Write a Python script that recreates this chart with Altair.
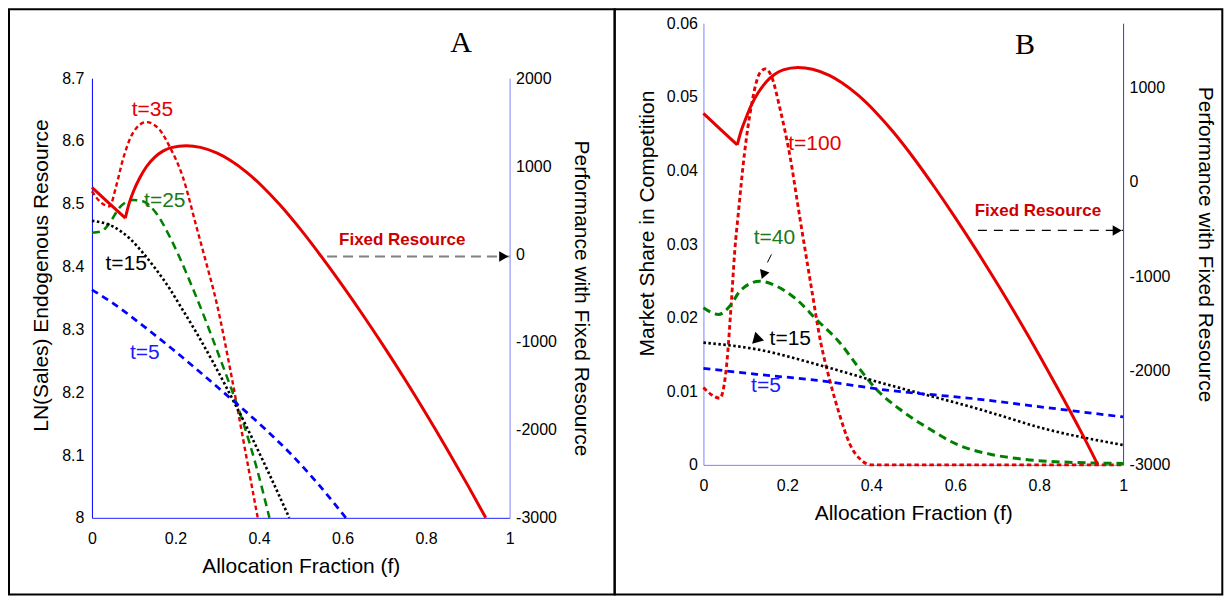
import altair as alt
import pandas as pd

# ---------------- shared ----------------
X_TICKS = [0, 0.2, 0.4, 0.6, 0.8, 1]

# ---------------- Panel A data ----------------
A_LEFT_TICKS = [8, 8.1, 8.2, 8.3, 8.4, 8.5, 8.6, 8.7]
A_RIGHT_TICKS = [-3000, -2000, -1000, 0, 1000, 2000]

A_T35_F = [0, 0.02, 0.042, 0.058, 0.074, 0.098, 0.13, 0.162, 0.186, 0.2175, 0.25, 0.27, 0.30, 0.33, 0.345, 0.369, 0.397]
A_T35_V = [8.520, 8.503, 8.496, 8.528, 8.570, 8.6125, 8.630, 8.618, 8.591, 8.543, 8.464, 8.415, 8.338, 8.24, 8.187, 8.10, 8.0]

A_T25_F = [0, 0.022, 0.042, 0.066, 0.098, 0.122, 0.154, 0.186, 0.2075, 0.241, 0.269, 0.289, 0.329, 0.345, 0.361, 0.393, 0.425]
A_T25_V = [8.454, 8.456, 8.469, 8.494, 8.506, 8.504, 8.485, 8.448, 8.418, 8.366, 8.32, 8.285, 8.214, 8.185, 8.154, 8.083, 8.0]

A_T15_F = [0, 0.05, 0.09, 0.122, 0.154, 0.186, 0.21, 0.25, 0.289, 0.321, 0.349, 0.385, 0.425, 0.4725]
A_T15_V = [8.473, 8.464, 8.445, 8.422, 8.395, 8.365, 8.339, 8.295, 8.249, 8.209, 8.173, 8.125, 8.069, 8.0]

A_T5_F = [0, 0.05, 0.122, 0.194, 0.257, 0.313, 0.353, 0.417, 0.48, 0.544, 0.608]
A_T5_V = [8.363, 8.342, 8.306, 8.268, 8.233, 8.201, 8.178, 8.140, 8.099, 8.052, 8.0]

A_FIX1_F = [0, 0.04, 0.0798]
A_FIX1_V = [757, 583, 409]
A_FIX2_F = [0.0798, 0.09, 0.10, 0.115, 0.13, 0.15, 0.17, 0.19, 0.226, 0.26, 0.30, 0.33, 0.37, 0.41,
            0.45, 0.50, 0.55, 0.60, 0.65, 0.70, 0.75, 0.80, 0.85, 0.90, 0.943]
A_FIX2_V = [409, 590, 720, 870, 990, 1100, 1170, 1210, 1231, 1213, 1147, 1069, 932, 760,
            560, 277, -33, -360, -702, -1059, -1430, -1816, -2216, -2631, -3000]

A_LABEL_TEXT = ["t=35", "t=25", "t=15", "t=5"]
A_LABEL_F = [0.145, 0.1745, 0.082, 0.1267]
A_LABEL_V = [8.6496, 8.5037, 8.4046, 8.2625]
A_LABEL_COLOR = ["#e60000", "#1a7a1a", "#000000", "#1a1aff"]

A_FIXED_TEXT_F, A_FIXED_TEXT_V = [0.743], [8.4427]
A_PANEL_F, A_PANEL_V = [0.884], [8.756]
A_ARROW_F0, A_ARROW_F1, A_ARROW_V = [0.563], [0.986], [-27]

# ---------------- Panel B data ----------------
B_LEFT_TICKS = [0, 0.01, 0.02, 0.03, 0.04, 0.05, 0.06]
B_RIGHT_TICKS = [-3000, -2000, -1000, 0, 1000]

B_T100_F = [0, 0.02, 0.039, 0.055, 0.067, 0.075, 0.0825, 0.098, 0.114, 0.134, 0.148, 0.162, 0.182,
            0.206, 0.230, 0.256, 0.280, 0.301, 0.325, 0.349, 0.375, 0.40, 0.6, 0.8, 1.0]
B_T100_V = [0.0105, 0.0095, 0.00905, 0.0134, 0.0225, 0.0293, 0.0338, 0.0424, 0.0487, 0.0532, 0.0538, 0.0528, 0.0485,
            0.0420, 0.0335, 0.0245, 0.0165, 0.0115, 0.0067, 0.0028, 0.0007, 0.0, 0.0, 0.0, 0.0]

B_T40_F = [0, 0.036, 0.063, 0.087, 0.134, 0.174, 0.222, 0.269, 0.325, 0.373, 0.412, 0.468, 0.54,
           0.603, 0.683, 0.762, 0.881, 1.0]
B_T40_V = [0.02135, 0.02044, 0.02157, 0.0236, 0.02496, 0.02428, 0.02247, 0.01976, 0.0166, 0.01298, 0.01027,
           0.00755, 0.00484, 0.00281, 0.00145, 0.00077, 0.00033, 0.0002]

B_T15_F = [0, 0.127, 0.286, 0.42, 0.658, 0.8175, 1.0]
B_T15_V = [0.0166, 0.0157, 0.0134, 0.0112, 0.00755, 0.00484, 0.0027]

B_T5_F = [0, 0.127, 0.286, 0.42, 0.658, 0.8175, 1.0]
B_T5_V = [0.01312, 0.0123, 0.01139, 0.01027, 0.00891, 0.00778, 0.00651]

B_FIX1_F = [0, 0.04, 0.0806]
B_FIX1_V = [725, 557, 390]
B_FIX2_F = [0.0806, 0.09, 0.10, 0.115, 0.13, 0.15, 0.17, 0.19, 0.225, 0.26, 0.30, 0.33, 0.37, 0.41,
            0.45, 0.50, 0.55, 0.60, 0.65, 0.70, 0.75, 0.80, 0.85, 0.90, 0.94]
B_FIX2_V = [390, 540, 660, 820, 940, 1060, 1140, 1185, 1211, 1193, 1127, 1049, 912, 740,
            540, 257, -53, -380, -722, -1079, -1450, -1836, -2236, -2651, -3000]

B_LABEL_TEXT = ["t=100", "t=40", "t=15", "t=5"]
B_LABEL_F = [0.2653, 0.169, 0.207, 0.149]
B_LABEL_V = [0.04363, 0.03084, 0.01705, 0.01077]
B_LABEL_COLOR = ["#e60000", "#1a7a1a", "#000000", "#1a1aff"]

B_FIXED_TEXT_F, B_FIXED_TEXT_V = [0.797], [0.03445]
B_PANEL_F, B_PANEL_V = [0.766], [0.05706]
B_ARROW_F0, B_ARROW_F1, B_ARROW_V = [0.654], [0.986], [-516]
B_T40_PTR_F0, B_T40_PTR_V0, B_T40_PTR_F1, B_T40_PTR_V1 = [0.162], [0.02858], [0.1525], [0.0275]
B_T40_HEAD_F, B_T40_HEAD_V = [0.1437], [0.0260]
B_T15_HEAD_F, B_T15_HEAD_V = [0.128], [0.01715]

SANS = "Liberation Sans"
SERIF = "Liberation Serif"


def long_df(pairs):
    rows = []
    for name, fs, vs in pairs:
        for f, v in zip(fs, vs):
            rows.append({"f": f, "v": v, "s": name})
    return pd.DataFrame(rows)


def make_panel(p):
    xs = alt.Scale(domain=[0, 1], nice=False, zero=False)
    ls = alt.Scale(domain=p["left_domain"], nice=False, zero=False, range=p["y_range"])
    rs = alt.Scale(domain=p["right_domain"], nice=False, zero=False, range=p["y_range"])

    ax_x = alt.Axis(title="Allocation Fraction (f)", values=X_TICKS, format=".1~f",
                    domainColor=p["bottom_color"], domainWidth=1, ticks=False, tickSize=0,
                    grid=False, labelFlush=False, labelPadding=13, titlePadding=9)
    ax_l = alt.Axis(title=p["left_title"], values=p["left_ticks"], format=p["left_fmt"],
                    domainColor=p["left_color"], domainWidth=1, ticks=False, tickSize=0,
                    grid=False, labelPadding=p["left_pad"], labelOverlap=False,
                    titleX=p["left_title_x"], titleY=p["left_title_y"], titleBaseline="middle",
                    titleAngle=270)
    ax_r = alt.Axis(title="Performance with Fixed Resource", values=p["right_ticks"],
                    labelExpr="'' + datum.value", orient="right",
                    domainColor=p["right_color"], domainWidth=1, ticks=False, tickSize=0,
                    grid=False, labelPadding=6, labelOverlap=False, titlePadding=p["right_title_pad"])

    X = alt.X("f:Q", scale=xs, axis=ax_x)
    YL = alt.Y("v:Q", scale=ls, axis=ax_l)
    YR = alt.Y("v:Q", scale=rs, axis=ax_r)

    frame = alt.Chart(pd.DataFrame({"f": [0]})).mark_rect(
        fillOpacity=0, stroke="black", strokeWidth=2
    ).encode(
        x=alt.value(p["frame"][0]), x2=alt.value(p["frame"][1]),
        y=alt.value(p["frame"][2]), y2=alt.value(p["frame"][3]),
    )

    names = p["series_names"]
    curves = alt.Chart(long_df(p["series"])).mark_line(interpolate="monotone", strokeCap="butt").encode(
        x=X, y=YL,
        color=alt.Color("s:N", scale=alt.Scale(domain=names, range=["#e60000", "#008000", "#000000", "#0000ff"]), legend=None),
        strokeDash=alt.StrokeDash("s:N", scale=alt.Scale(domain=names, range=[[4.5, 3], [8, 5], [2.5, 2.5], [7, 5]]), legend=None),
        strokeWidth=alt.StrokeWidth("s:N", scale=alt.Scale(domain=names, range=[2.4, 3, 2.6, 3]), legend=None),
        detail="s:N",
    )

    lab_df = pd.DataFrame({"f": p["label_f"], "v": p["label_v"], "t": p["label_text"], "c": p["label_color"]})
    labels = alt.Chart(lab_df).mark_text(font=SANS, fontSize=21, align="center", baseline="middle").encode(
        x=X, y=YL, text="t:N", color=alt.Color("c:N", scale=None)
    )

    fixed_txt = alt.Chart(pd.DataFrame({"f": p["fixed_f"], "v": p["fixed_v"], "t": ["Fixed Resource"]})).mark_text(
        font=SANS, fontSize=17, fontWeight="bold", color="#cc0000", align="center", baseline="middle"
    ).encode(x=X, y=YL, text="t:N")

    panel_txt = alt.Chart(pd.DataFrame({"f": p["panel_f"], "v": p["panel_v"], "t": [p["panel_name"]]})).mark_text(
        font=SERIF, fontSize=30, color="black", align="center", baseline="middle"
    ).encode(x=X, y=YL, text="t:N")

    left_layers = [frame, curves, labels, fixed_txt, panel_txt] + p["extra_left"](X, YL)
    left = alt.layer(*left_layers)

    fix_df = long_df([("seg1", p["fix1_f"], p["fix1_v"]), ("seg2", p["fix2_f"], p["fix2_v"])])
    solid = alt.Chart(fix_df).mark_line(color="#e60000", strokeWidth=3, interpolate="monotone").encode(
        x=X, y=YR, detail="s:N"
    )
    arr_df = pd.DataFrame({"f": p["arrow_f0"], "f2": [1.0], "v": p["arrow_v"]})
    arrow = alt.Chart(arr_df).mark_rule(color=p["arrow_color"], strokeWidth=p["arrow_width"],
                                        strokeDash=p["arrow_dash"]).encode(
        x=X, x2="f2:Q", y=YR
    )
    head_df = pd.DataFrame({"f": p["arrow_f1"], "v": p["arrow_v"]})
    head = alt.Chart(head_df).mark_point(shape="triangle-right", filled=True, color="black",
                                         size=110, opacity=1).encode(x=X, y=YR)
    right = alt.layer(solid, arrow, head)

    return alt.layer(left, right).resolve_scale(y="independent").properties(
        width=p["width"], height=p["height"]
    )


def extra_a(X, YL):
    return []


def extra_b(X, YL):
    ptr = alt.Chart(pd.DataFrame({"f": B_T40_PTR_F0, "v": B_T40_PTR_V0, "f2": B_T40_PTR_F1, "v2": B_T40_PTR_V1})).mark_rule(
        color="black", strokeWidth=1
    ).encode(x=X, y=YL, x2="f2:Q", y2="v2:Q")
    h40 = alt.Chart(pd.DataFrame({"f": B_T40_HEAD_F, "v": B_T40_HEAD_V})).mark_point(
        shape="triangle", filled=True, color="black", size=100, angle=200, opacity=1
    ).encode(x=X, y=YL)
    h15 = alt.Chart(pd.DataFrame({"f": B_T15_HEAD_F, "v": B_T15_HEAD_V})).mark_point(
        shape="triangle", filled=True, color="black", size=150, angle=345, opacity=1
    ).encode(x=X, y=YL)
    return [ptr, h40, h15]


panel_a = make_panel(dict(
    width=418, height=495, y_range=[495, 55],
    left_domain=[8, 8.7], right_domain=[-3000, 2000],
    left_ticks=A_LEFT_TICKS, right_ticks=A_RIGHT_TICKS, left_fmt=".1~f",
    left_title="LN(Sales) Endogenous Resource",
    left_color="#0000ff", right_color="#8080ff", bottom_color="#2020ff",
    left_pad=8, left_title_x=-50, left_title_y=252, right_title_pad=14,
    frame=[-83, 523, -14, 571.7],
    series_names=["t=35", "t=25", "t=15", "t=5"],
    series=[("t=35", A_T35_F, A_T35_V), ("t=25", A_T25_F, A_T25_V),
            ("t=15", A_T15_F, A_T15_V), ("t=5", A_T5_F, A_T5_V)],
    label_f=A_LABEL_F, label_v=A_LABEL_V, label_text=A_LABEL_TEXT, label_color=A_LABEL_COLOR,
    fixed_f=A_FIXED_TEXT_F, fixed_v=A_FIXED_TEXT_V,
    panel_f=A_PANEL_F, panel_v=A_PANEL_V, panel_name="A",
    fix1_f=A_FIX1_F, fix1_v=A_FIX1_V, fix2_f=A_FIX2_F, fix2_v=A_FIX2_V,
    arrow_f0=A_ARROW_F0, arrow_f1=A_ARROW_F1, arrow_v=A_ARROW_V,
    arrow_color="#808080", arrow_width=2, arrow_dash=[10, 6],
    extra_left=extra_a,
))

panel_b = make_panel(dict(
    width=420, height=442, y_range=[442, 0],
    left_domain=[0, 0.06], right_domain=[-3000, 1680],
    left_ticks=B_LEFT_TICKS, right_ticks=B_RIGHT_TICKS, left_fmt=".2~f",
    left_title="Market Share in Competition",
    left_color="#8080ff", right_color="#3030ff", bottom_color="#8080ff",
    left_pad=6, left_title_x=-56, left_title_y=200, right_title_pad=25,
    frame=[-88.7, 519.3, -14, 571.7],
    series_names=["t=100", "t=40", "t=15", "t=5"],
    series=[("t=100", B_T100_F, B_T100_V), ("t=40", B_T40_F, B_T40_V),
            ("t=15", B_T15_F, B_T15_V), ("t=5", B_T5_F, B_T5_V)],
    label_f=B_LABEL_F, label_v=B_LABEL_V, label_text=B_LABEL_TEXT, label_color=B_LABEL_COLOR,
    fixed_f=B_FIXED_TEXT_F, fixed_v=B_FIXED_TEXT_V,
    panel_f=B_PANEL_F, panel_v=B_PANEL_V, panel_name="B",
    fix1_f=B_FIX1_F, fix1_v=B_FIX1_V, fix2_f=B_FIX2_F, fix2_v=B_FIX2_V,
    arrow_f0=B_ARROW_F0, arrow_f1=B_ARROW_F1, arrow_v=B_ARROW_V,
    arrow_color="black", arrow_width=1.2, arrow_dash=[9, 7],
    extra_left=extra_b,
))

chart = alt.hconcat(panel_a, panel_b, spacing=-2).properties(
    padding=0
).configure_view(stroke=None).configure_axis(
    labelFont=SANS, titleFont=SANS, labelFontSize=16, titleFontSize=21,
    titleFontWeight="normal", labelColor="black", titleColor="black"
)

chart.save("out.html", embed_options={"renderer": "svg", "actions": False})
